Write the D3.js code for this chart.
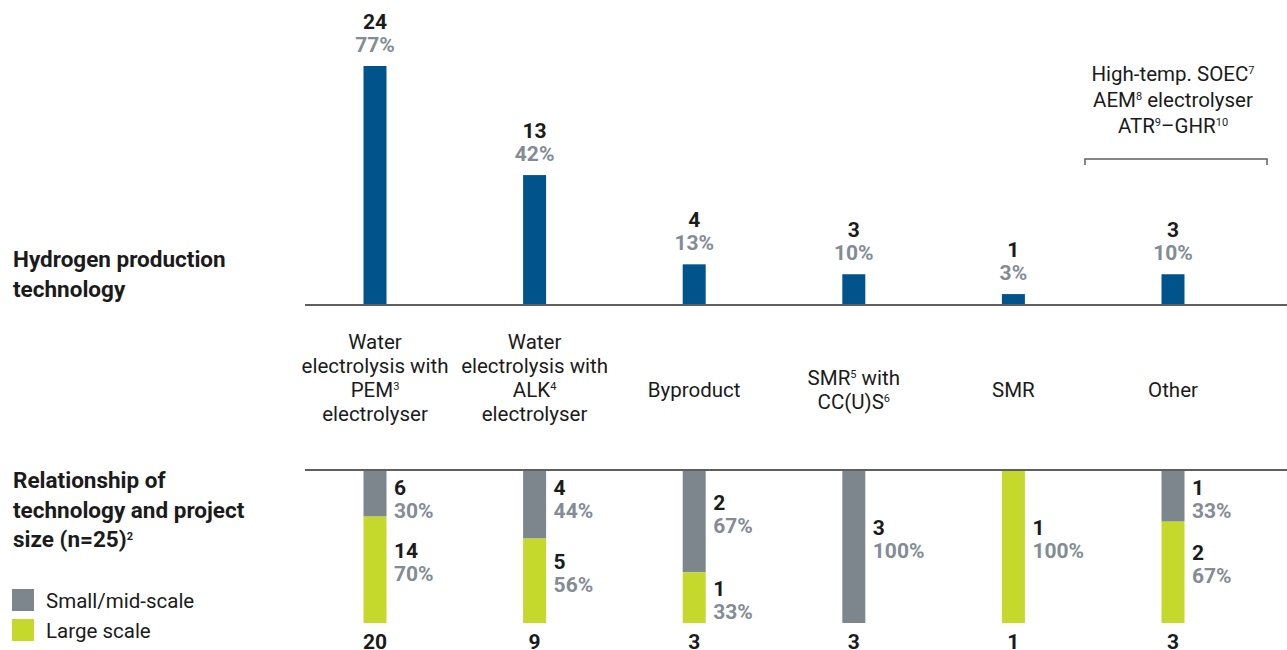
<!DOCTYPE html>
<html>
<head>
<meta charset="utf-8">
<script src="https://cdn.jsdelivr.net/npm/d3@7"></script>
<style>
  body { margin: 0; background: #fff; }
  svg text { font-family: Roboto, "Liberation Sans", sans-serif; }
</style>
</head>
<body>
<svg id="chart"></svg>
<script>
// Data
var categories = ["PEM", "ALK", "Byproduct", "SMR CCUS", "SMR", "Other"];
var categoryLabels = [
    ["Water", "electrolysis with", "PEM^3", "electrolyser"],
    ["Water", "electrolysis with", "ALK^4", "electrolyser"],
    ["Byproduct"],
    ["SMR^5 with", "CC(U)S^6"],
    ["SMR"],
    ["Other"]
];
var techCounts = [24, 13, 4, 3, 1, 3];
var techPct = ["77%", "42%", "13%", "10%", "3%", "10%"];
var smallCounts = [6, 4, 2, 3, 0, 1];
var smallPct = ["30%", "44%", "67%", "100%", "", "33%"];
var largeCounts = [14, 5, 1, 0, 1, 2];
var largePct = ["70%", "56%", "33%", "", "100%", "67%"];
var sizeTotals = [20, 9, 3, 3, 1, 3];
var otherNote = ["High-temp. SOEC^7", "AEM^8 electrolyser", "ATR^9\u2013GHR^10"];
var legendItems = ["Small/mid-scale", "Large scale"];

var colors = {
    bar: '#00548b',
    small: '#7e868d',
    large: '#c5d92d',
    dark: '#1b1b1b',
    pct: '#838c95',
    axis: '#5f5f5f'
};

var width = 1287, height = 650;
var svg = d3.select("#chart")
    .attr("width", width)
    .attr("height", height);

var fsNum = 21,   // bold values
    fsText = 20.5, // regular labels
    fsHead = 22.5; // left headings

// writes "ABC^3 def" with superscripts
function rich(sel, str) {
    var parts = str.split(/\^(\d+)/);
    parts.forEach(function (p, i) {
        if (p === "") return;
        if (i % 2 === 1) {
            sel.append("tspan")
                .attr("font-size", 11)
                .attr("baseline-shift", "7")
                .text(p);
        } else {
            sel.append("tspan").text(p);
        }
    });
}

var x = d3.scalePoint()
    .domain(categories)
    .range([375, 1173]);

var y = d3.scaleLinear()
    .domain([0, 24])
    .range([304, 66]);

var ys = d3.scaleLinear()
    .domain([0, 1])
    .range([471, 623]);

var barW = 23;

// left headings
var h1 = svg.append("g").attr("font-weight", 700).attr("font-size", fsHead).attr("fill", colors.dark);
h1.append("text").attr("x", 13).attr("y", 267).text("Hydrogen production");
h1.append("text").attr("x", 13).attr("y", 297).text("technology");
h1.append("text").attr("x", 13).attr("y", 488).text("Relationship of");
h1.append("text").attr("x", 13).attr("y", 518).text("technology and project");
rich(h1.append("text").attr("x", 13).attr("y", 547), "size (n=25)^2");

// legend
var legend = svg.append("g");
legendItems.forEach(function (name, i) {
    legend.append("rect")
        .attr("x", 12).attr("y", 589 + i * 30)
        .attr("width", 22).attr("height", 22)
        .attr("fill", i === 0 ? colors.small : colors.large);
    legend.append("text")
        .attr("x", 46).attr("y", 608 + i * 30)
        .attr("font-size", fsText)
        .attr("fill", colors.dark)
        .text(name);
});

// top axis line
svg.append("line")
    .attr("x1", 305).attr("x2", width)
    .attr("y1", y(0) + 1).attr("y2", y(0) + 1)
    .attr("stroke", colors.axis).attr("stroke-width", 2);

// technology bars
svg.selectAll(".tech")
    .data(categories)
    .enter().append("rect")
    .attr("class", "tech")
    .attr("x", d => x(d) - barW / 2)
    .attr("y", (d, i) => y(techCounts[i]))
    .attr("width", barW)
    .attr("height", (d, i) => y(0) - y(techCounts[i]))
    .attr("fill", colors.bar);

var topLab = svg.selectAll(".toplab")
    .data(categories)
    .enter().append("g")
    .attr("class", "toplab")
    .attr("text-anchor", "middle")
    .attr("font-weight", 700)
    .attr("font-size", fsNum);
topLab.append("text")
    .attr("x", d => x(d))
    .attr("y", (d, i) => y(techCounts[i]) - 37)
    .attr("fill", colors.dark)
    .text((d, i) => techCounts[i]);
topLab.append("text")
    .attr("x", d => x(d))
    .attr("y", (d, i) => y(techCounts[i]) - 14)
    .attr("fill", colors.pct)
    .text((d, i) => techPct[i]);

// category labels
categories.forEach(function (c, i) {
    var lines = categoryLabels[i];
    var mid = lines.length > 2 ? 378 : 390;
    var first = mid - (lines.length - 1) * 12;
    lines.forEach(function (l, j) {
        var t = svg.append("text")
            .attr("x", x(c))
            .attr("y", first + j * 24 + 7)
            .attr("text-anchor", "middle")
            .attr("font-size", fsText)
            .attr("fill", colors.dark);
        rich(t, l);
    });
});

// note over "Other"
otherNote.forEach(function (l, j) {
    var t = svg.append("text")
        .attr("x", x("Other"))
        .attr("y", 81 + j * 26)
        .attr("text-anchor", "middle")
        .attr("font-size", fsText)
        .attr("fill", colors.dark);
    rich(t, l);
});
svg.append("path")
    .attr("d", "M1085,165V159H1267V165")
    .attr("fill", "none")
    .attr("stroke", colors.axis)
    .attr("stroke-width", 1.5);

// bottom axis line
svg.append("line")
    .attr("x1", 305).attr("x2", width)
    .attr("y1", ys(0) - 1).attr("y2", ys(0) - 1)
    .attr("stroke", colors.axis).attr("stroke-width", 2);

// stacked size bars
var segs = [];
categories.forEach(function (c, i) {
    var tot = smallCounts[i] + largeCounts[i];
    var s = smallCounts[i] / tot;
    segs.push({ cat: c, k: "small", v0: 0, v1: s, n: smallCounts[i], pct: smallPct[i] });
    segs.push({ cat: c, k: "large", v0: s, v1: 1, n: largeCounts[i], pct: largePct[i] });
});
segs = segs.filter(d => d.n > 0);

svg.selectAll(".seg")
    .data(segs)
    .enter().append("rect")
    .attr("class", "seg")
    .attr("x", d => x(d.cat) - barW / 2)
    .attr("y", d => ys(d.v0))
    .attr("width", barW)
    .attr("height", d => ys(d.v1) - ys(d.v0))
    .attr("fill", d => colors[d.k]);

var segLab = svg.selectAll(".seglab")
    .data(segs)
    .enter().append("g")
    .attr("class", "seglab")
    .attr("font-weight", 700)
    .attr("font-size", fsNum);
function labelMid(d) {
    var top = ys(d.v0), bot = ys(d.v1);
    var c = (top + bot) / 2 - 8;
    return Math.max(top + 28, Math.min(bot - 25, c));
}
segLab.append("text")
    .attr("x", d => x(d.cat) + 19)
    .attr("y", d => labelMid(d) - 4)
    .attr("fill", colors.dark)
    .text(d => d.n);
segLab.append("text")
    .attr("x", d => x(d.cat) + 19)
    .attr("y", d => labelMid(d) + 19)
    .attr("fill", colors.pct)
    .text(d => d.pct);

// totals
svg.selectAll(".total")
    .data(categories)
    .enter().append("text")
    .attr("class", "total")
    .attr("x", d => x(d))
    .attr("y", 649)
    .attr("text-anchor", "middle")
    .attr("font-weight", 700)
    .attr("font-size", fsNum)
    .attr("fill", colors.dark)
    .text((d, i) => sizeTotals[i]);
</script>
</body>
</html>
